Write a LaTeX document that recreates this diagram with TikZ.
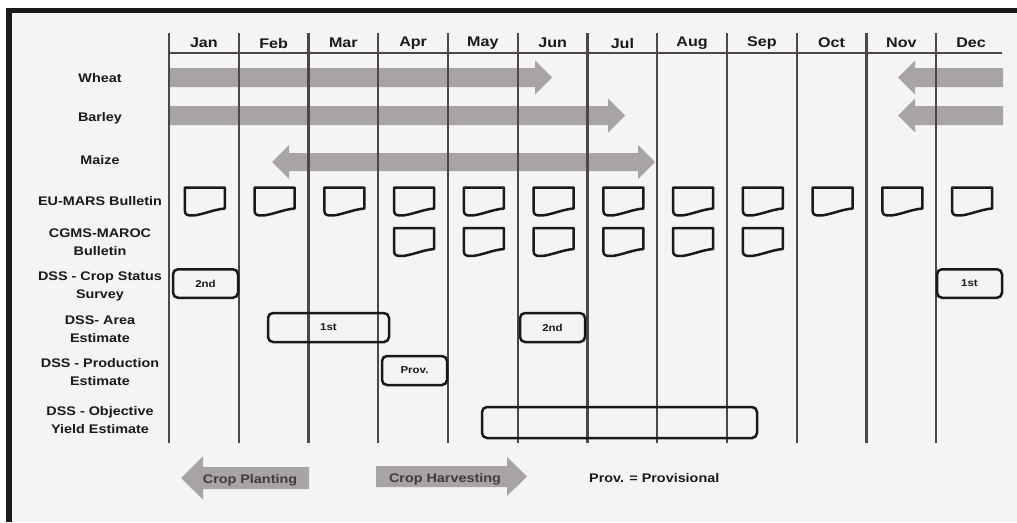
\documentclass[tikz,border=0pt]{standalone}
\usepackage{fontspec}
\setmainfont{Liberation Sans}[FakeStretch=1.15]
\definecolor{bgc}{HTML}{F4F4F4}
\definecolor{framec}{HTML}{1A1A1A}
\definecolor{linec}{HTML}{4E4646}
\definecolor{arrc}{HTML}{A8A4A5}
\definecolor{txtc}{HTML}{1C1818}
\newcommand\rarr[6]{\fill[arrc] (#1,{#4-#5}) -- (#2,{#4-#5}) -- (#2,{#4-#6}) -- (#3,#4) -- (#2,{#4+#6}) -- (#2,{#4+#5}) -- (#1,{#4+#5}) -- cycle;}
\newcommand\bull[2]{\draw[bul] ({#1-20},{#2-14}) -- ({#1+20},{#2-14}) -- ({#1+20},{#2+7}) .. controls ({#1+8},{#2+8}) and ({#1-4},{#2+14}) .. ({#1-13},{#2+14}) .. controls ({#1-18},{#2+14}) and ({#1-20},{#2+13}) .. ({#1-20},{#2+9}) -- cycle;}
\begin{document}
\begin{tikzpicture}[x=1pt,y=-1pt,
  gridline/.style={draw=linec, line width=2.2pt},
  bul/.style={draw=txtc, line width=2.5pt, line join=round},
  box/.style={draw=txtc, line width=2.5pt, rounded corners=5pt, inner sep=0pt, font=\fontsize{10}{12}\selectfont\bfseries, text=txtc},
  month/.style={font=\fontsize{14}{16}\selectfont\bfseries, text=txtc, inner sep=0pt},
  rowlab/.style={font=\fontsize{12.5}{18}\selectfont\bfseries, text=txtc, align=center, inner sep=0pt},
  legtxt/.style={font=\fontsize{12.5}{14}\selectfont\bfseries, text=txtc!85, inner sep=0pt}]
\useasboundingbox (0,0) rectangle (1017,522);
\fill[white] (0,0) rectangle (1017,522);
\fill[bgc] (6,8) rectangle (1017,522);
\fill[framec] (6,8) rectangle (1017,13);
\fill[framec] (6,8) rectangle (12,522);
% crop arrows
\rarr{169}{535}{552}{77.5}{9.5}{17}
\rarr{1003}{915}{898}{77.5}{9.5}{17}
\rarr{169}{608}{625}{115.5}{9.5}{17}
\rarr{1003}{915}{898}{115.5}{9.5}{17}
\fill[arrc] (272,162) -- (289,145) -- (289,153) -- (638,153) -- (638,145) -- (655,162) -- (638,179) -- (638,171) -- (289,171) -- (289,179) -- cycle;
% grid
\foreach \i in {0,...,11} \draw[gridline] ({169+69.75*\i},33) -- ({169+69.75*\i},443);
\draw[gridline] (168,53) -- (1002,53);
\foreach \m [count=\i from 0] in {Jan,Feb,Mar,Apr,May,Jun,Jul,Aug,Sep,Oct,Nov,Dec}
  \node[month] (m\i) at ({169+69.75*(\i+0.5)},43) {\m};
% row labels
\node[rowlab] (lw) at (100,78) {Wheat};
\node[rowlab] (lb) at (100,118) {Barley};
\node[rowlab] (lm) at (100,160) {Maize};
\node[rowlab] (le) at (100,201) {EU-MARS Bulletin};
\node[rowlab] (lc) at (100,242) {CGMS-MAROC\\Bulletin};
\node[rowlab] (ls) at (100,286.5) {DSS - Crop Status\\Survey};
\node[rowlab] (la) at (100,329) {DSS- Area\\Estimate};
\node[rowlab] (lp) at (100,372.5) {DSS - Production\\Estimate};
\node[rowlab] (lo) at (100,420) {DSS - Objective\\Yield Estimate};
% bulletins
\foreach \i in {0,...,11} {\pgfmathsetmacro\cx{169+69.75*(\i+0.5)+1}\bull{\cx}{201.5}}
\foreach \i in {3,...,8} {\pgfmathsetmacro\cx{169+69.75*(\i+0.5)+1}\bull{\cx}{242}}
% DSS boxes
\node[box, minimum width=65pt, minimum height=28.5pt] (cs2) at (205.5,283.5) {2nd};
\node[box, minimum width=65pt, minimum height=28.5pt] (cs1) at (969.5,283.5) {1st};
\node[box, minimum width=121pt, minimum height=29pt] (ae1) at (328.5,327.5) {1st};
\node[box, minimum width=65pt, minimum height=29pt] (ae2) at (552.5,327.5) {2nd};
\node[box, minimum width=65pt, minimum height=29pt] (pe) at (414.5,370.5) {Prov.};
\node[box, minimum width=275pt, minimum height=31pt] (oy) at (619.5,422.5) {};
% legend
\rarr{309}{203}{181}{478}{11}{21.5}
\rarr{376}{507}{527}{476.5}{10.5}{19.5}
\node[legtxt] (cp) at (250,480) {Crop Planting};
\node[legtxt] (ch) at (445,479) {Crop Harvesting};
\node[legtxt, anchor=west, text=txtc] (pv) at (589,478) {Prov. = Provisional};
\end{tikzpicture}
\end{document}
